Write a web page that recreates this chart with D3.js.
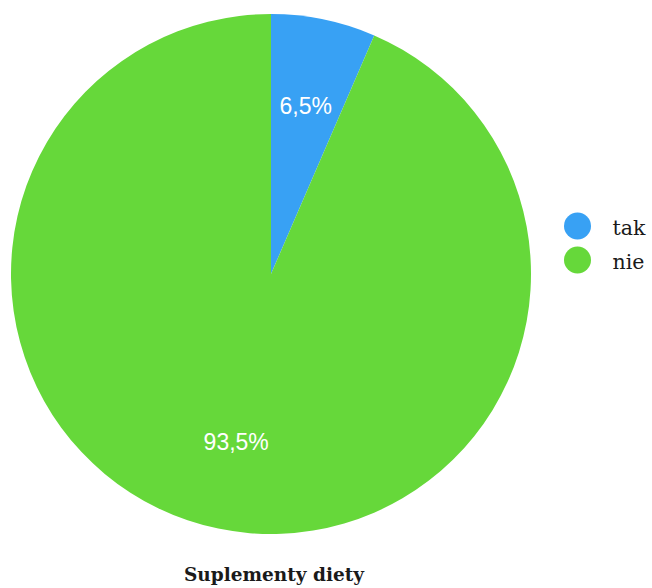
<!DOCTYPE html>
<html>
<head>
<meta charset="utf-8">
<script src="https://cdn.jsdelivr.net/npm/d3@7"></script>
<style>
  html, body { margin: 0; padding: 0; background: #fff; }
  svg { display: block; }
</style>
</head>
<body>
<svg id="chart" width="652" height="588"></svg>
<script>
const categories = ["tak", "nie"];
const values = [6.5, 93.5];
const labels = ["6,5%", "93,5%"];
const colors = ["#38a1f4", "#66d83a"];
const title = "Suplementy diety";

const svg = d3.select("#chart");
const cx = 271, cy = 274, radius = 260;

const pie = d3.pie().sort(null).value(d => d.value);
const data = pie(categories.map((c, i) => ({ cat: c, value: values[i], label: labels[i] })));

const arc = d3.arc().innerRadius(0).outerRadius(radius);
const labelArc = d3.arc().innerRadius(radius * 0.66).outerRadius(radius * 0.66);

const g = svg.append("g").attr("transform", `translate(${cx},${cy})`);

g.selectAll("path.slice")
  .data(data)
  .join("path")
  .attr("class", "slice")
  .attr("d", arc)
  .attr("fill", (d, i) => colors[i]);

g.selectAll("text.pct")
  .data(data)
  .join("text")
  .attr("class", "pct")
  .attr("transform", d => `translate(${labelArc.centroid(d)})`)
  .attr("text-anchor", "middle")
  .attr("dominant-baseline", "central")
  .attr("fill", "#fff")
  .style("font-family", "Liberation Sans, Arial, sans-serif")
  .style("font-size", "23px")
  .text(d => d.data.label);

// Legend
const legend = svg.append("g").attr("transform", "translate(577.5,226)");
const items = legend.selectAll("g.item")
  .data(categories)
  .join("g")
  .attr("class", "item")
  .attr("transform", (d, i) => `translate(0,${i * 34})`);
items.append("circle").attr("r", 13.5).attr("fill", (d, i) => colors[i]);
items.append("text")
  .attr("x", 35)
  .attr("y", 2)
  .attr("dominant-baseline", "central")
  .attr("fill", "#1a1a1a")
  .style("font-family", "DejaVu Serif, serif")
  .style("font-size", "20.5px")
  .text(d => d);

// Title
svg.append("text")
  .attr("x", 274)
  .attr("y", 581)
  .attr("text-anchor", "middle")
  .attr("fill", "#1a1a1a")
  .style("font-family", "DejaVu Serif, serif")
  .style("font-weight", "bold")
  .style("font-size", "18.5px")
  .text(title);
</script>
</body>
</html>
